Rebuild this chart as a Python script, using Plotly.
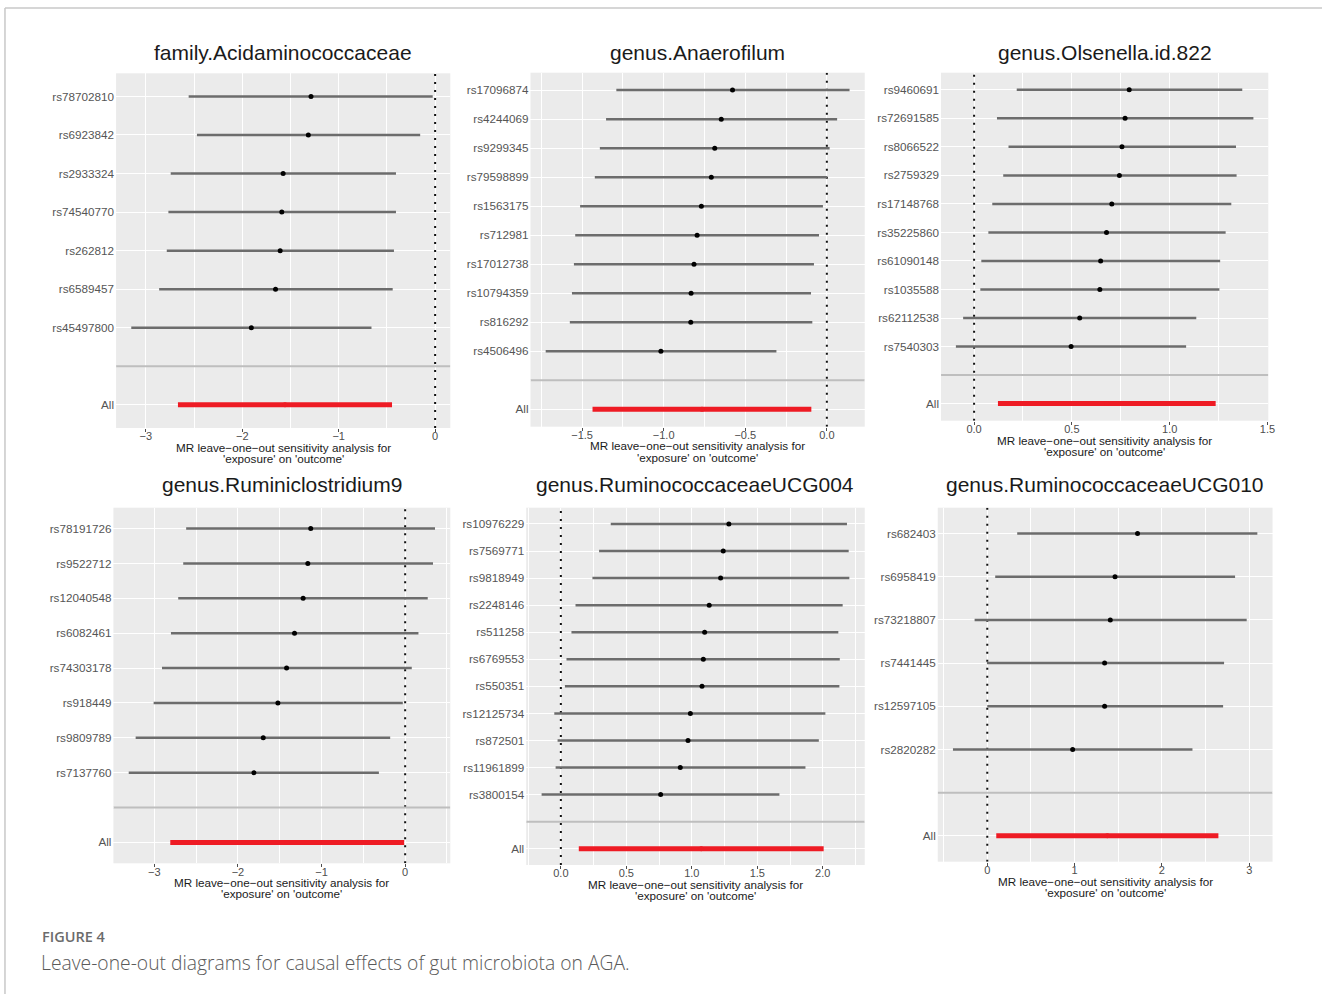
import plotly.graph_objects as go

W, H = 1329, 994

# ---------------- data ----------------
p1_title = "family.Acidaminococcaceae"
p1_snps = ["rs78702810", "rs6923842", "rs2933324", "rs74540770", "rs262812", "rs6589457", "rs45497800"]
p1_b = [-1.287, -1.315, -1.576, -1.590, -1.607, -1.655, -1.906]
p1_lo = [-2.556, -2.470, -2.742, -2.766, -2.783, -2.862, -3.151]
p1_hi = [-0.025, -0.155, -0.406, -0.406, -0.427, -0.440, -0.660]
p1_all = [-2.667, -1.557, -0.447]
p1_major = 1.0

p2_title = "genus.Anaerofilum"
p2_snps = ["rs17096874", "rs4244069", "rs9299345", "rs79598899", "rs1563175", "rs712981",
           "rs17012738", "rs10794359", "rs816292", "rs4506496"]
p2_b = [-0.578, -0.647, -0.687, -0.708, -0.769, -0.795, -0.814, -0.832, -0.834, -1.017]
p2_lo = [-1.290, -1.353, -1.391, -1.422, -1.512, -1.542, -1.550, -1.562, -1.575, -1.723]
p2_hi = [0.139, 0.063, 0.017, 0.002, -0.024, -0.048, -0.079, -0.097, -0.089, -0.309]
p2_all = [-1.436, -0.765, -0.095]
p2_major = 0.5

p3_title = "genus.Olsenella.id.822"
p3_snps = ["rs9460691", "rs72691585", "rs8066522", "rs2759329", "rs17148768", "rs35225860",
           "rs61090148", "rs1035588", "rs62112538", "rs7540303"]
p3_b = [0.793, 0.772, 0.756, 0.743, 0.704, 0.677, 0.647, 0.643, 0.540, 0.496]
p3_lo = [0.218, 0.117, 0.176, 0.149, 0.093, 0.073, 0.037, 0.032, -0.056, -0.093]
p3_hi = [1.371, 1.428, 1.339, 1.342, 1.315, 1.286, 1.258, 1.254, 1.136, 1.084]
p3_all = [0.122, 0.678, 1.235]
p3_major = 0.5

p4_title = "genus.Ruminiclostridium9"
p4_snps = ["rs78191726", "rs9522712", "rs12040548", "rs6082461", "rs74303178", "rs918449",
           "rs9809789", "rs7137760"]
p4_b = [-1.129, -1.164, -1.220, -1.323, -1.418, -1.522, -1.697, -1.808]
p4_lo = [-2.619, -2.654, -2.714, -2.801, -2.908, -3.008, -3.223, -3.306]
p4_hi = [0.357, 0.333, 0.270, 0.159, 0.079, -0.028, -0.179, -0.314]
p4_all = [-2.809, -1.410, -0.012]
p4_major = 1.0

p5_title = "genus.RuminococcaceaeUCG004"
p5_snps = ["rs10976229", "rs7569771", "rs9818949", "rs2248146", "rs511258", "rs6769553",
           "rs550351", "rs12125734", "rs872501", "rs11961899", "rs3800154"]
p5_b = [1.283, 1.240, 1.220, 1.133, 1.098, 1.088, 1.078, 0.989, 0.971, 0.912, 0.762]
p5_lo = [0.381, 0.292, 0.241, 0.112, 0.081, 0.043, 0.031, -0.050, -0.025, -0.040, -0.147]
p5_hi = [2.185, 2.198, 2.203, 2.152, 2.119, 2.130, 2.127, 2.020, 1.970, 1.868, 1.669]
p5_all = [0.137, 1.072, 2.007]
p5_major = 0.5

p6_title = "genus.RuminococcaceaeUCG010"
p6_snps = ["rs682403", "rs6958419", "rs73218807", "rs7441445", "rs12597105", "rs2820282"]
p6_b = [1.721, 1.463, 1.409, 1.344, 1.344, 0.978]
p6_lo = [0.343, 0.091, -0.145, -0.004, 0.000, -0.393]
p6_hi = [3.093, 2.838, 2.971, 2.712, 2.701, 2.350]
p6_all = [0.103, 1.375, 2.647]
p6_major = 1.0

x_title_1 = "MR leave\u2212one\u2212out sensitivity analysis for"
x_title_2 = "'exposure' on 'outcome'"
caption_1 = "FIGURE 4"
caption_2 = "Leave-one-out diagrams for causal effects of gut microbiota on AGA."

panels = [
    (p1_title, p1_snps, p1_b, p1_lo, p1_hi, p1_all, p1_major),
    (p2_title, p2_snps, p2_b, p2_lo, p2_hi, p2_all, p2_major),
    (p3_title, p3_snps, p3_b, p3_lo, p3_hi, p3_all, p3_major),
    (p4_title, p4_snps, p4_b, p4_lo, p4_hi, p4_all, p4_major),
    (p5_title, p5_snps, p5_b, p5_lo, p5_hi, p5_all, p5_major),
    (p6_title, p6_snps, p6_b, p6_lo, p6_hi, p6_all, p6_major),
]

# ---------------- layout (pixel boxes: left, right, top, bottom) ----------------
boxes = [
    (116.7, 452.7, 73.3, 428.0),
    (533.3, 869.3, 72.7, 426.7),
    (946.0, 1275.0, 72.7, 420.7),
    (114.0, 452.7, 507.7, 863.3),
    (529.0, 869.3, 507.7, 865.0),
    (942.7, 1279.3, 507.7, 861.7),
]
title_y = [52, 52, 52, 484, 485, 484]

FONT = "Liberation Sans, Arial, Helvetica, sans-serif"
BAR = "#6c6c6c"
RED = "#ee1b24"

fig = go.Figure()
layout = dict(
    width=W, height=H, autosize=False,
    margin=dict(l=0, r=0, t=0, b=0),
    paper_bgcolor="white", plot_bgcolor="#EBEBEB",
    showlegend=False,
    font=dict(family=FONT, color="#4D4D4D"),
)
annotations = []
shapes = []

for i, (title, snps, b, lo, hi, allv, major) in enumerate(panels):
    k = "" if i == 0 else str(i + 1)
    xa, ya = "x" + k, "y" + k
    L, R, T, B = boxes[i]
    n = len(snps)
    rows = [n + 2 - j for j in range(n)]
    yr = [0.4, n + 2.6]

    # x range from data (+0 line) with 5% expansion
    xmin = min(min(lo), allv[0], 0.0)
    xmax = max(max(hi), allv[2], 0.0)
    span = xmax - xmin
    xr = [xmin - 0.05 * span, xmax + 0.05 * span]

    fmt = ".1f" if major < 1 else "d"
    layout["xaxis" + k] = dict(
        domain=[L / W, R / W], anchor=ya, range=xr,
        tick0=0, dtick=major, tickformat=fmt,
        showgrid=True, gridcolor="white", gridwidth=1.3,
        minor=dict(tick0=0, dtick=major / 2, showgrid=True, gridcolor="white", gridwidth=0.6),
        zeroline=False, showline=False,
        ticks="outside", ticklen=3, tickwidth=1, tickcolor="#4D4D4D",
        tickfont=dict(size=11, color="#4D4D4D", family=FONT),
        ticklabelstandoff=-5,
        fixedrange=True,
    )
    layout["yaxis" + k] = dict(
        domain=[1 - B / H, 1 - T / H], anchor=xa, range=yr,
        tickmode="array", tickvals=[1, 2] + rows, ticktext=["All", ""] + snps,
        showgrid=True, gridcolor="white", gridwidth=1.3,
        zeroline=False, showline=False, ticks="",
        tickfont=dict(size=11.7, color="#555555", family=FONT),
        ticklabelstandoff=1,
        fixedrange=True,
    )

    # dotted vertical line at 0
    shapes.append(dict(type="line", xref=xa, yref=ya, x0=0, x1=0, y0=yr[0], y1=yr[1],
                       line=dict(color="#111111", width=2, dash="2px,6px"), layer="between"))

    # SNP error bars
    xs, ys = [], []
    for r, a, c in zip(rows, lo, hi):
        xs += [a, c, None]
        ys += [r, r, None]
    fig.add_trace(go.Scatter(x=xs, y=ys, mode="lines", xaxis=xa, yaxis=ya,
                             line=dict(color=BAR, width=2.5), hoverinfo="skip"))
    # All bar
    fig.add_trace(go.Scatter(x=[allv[0], allv[2]], y=[1, 1], mode="lines", xaxis=xa, yaxis=ya,
                             line=dict(color=RED, width=5), hoverinfo="skip"))
    # points
    fig.add_trace(go.Scatter(x=b, y=rows, mode="markers", xaxis=xa, yaxis=ya,
                             marker=dict(color="black", size=5), hoverinfo="skip"))
    fig.add_trace(go.Scatter(x=[allv[1]], y=[1], mode="markers", xaxis=xa, yaxis=ya,
                             marker=dict(color=RED, size=5), hoverinfo="skip"))

    # grey separator line at the blank row
    shapes.append(dict(type="line", xref=xa, yref=ya, x0=xr[0], x1=xr[1], y0=2, y1=2,
                       line=dict(color="#BEBEBE", width=2), layer="above"))

    cx = (L + R) / 2 / W
    annotations.append(dict(text=title, x=cx, y=1 - title_y[i] / H, xref="paper", yref="paper",
                            xanchor="center", yanchor="middle", showarrow=False,
                            font=dict(size=21, color="#1A1A1A", family=FONT)))
    annotations.append(dict(text=x_title_1, x=cx, y=1 - (B + 19.3) / H, xref="paper", yref="paper",
                            xanchor="center", yanchor="middle", showarrow=False,
                            font=dict(size=11.7, color="#1A1A1A", family=FONT)))
    annotations.append(dict(text=x_title_2, x=cx, y=1 - (B + 30.5) / H, xref="paper", yref="paper",
                            xanchor="center", yanchor="middle", showarrow=False,
                            font=dict(size=11.7, color="#1A1A1A", family=FONT)))

# caption
annotations.append(dict(text=caption_1, x=40 / W, y=1 - 936 / H, xref="paper", yref="paper",
                        xanchor="left", yanchor="middle", showarrow=False,
                        font=dict(size=14.5, color="#6b6b6b", family="Open Sans, sans-serif", weight=600)))
annotations.append(dict(text=caption_2, x=39 / W, y=1 - 962 / H, xref="paper", yref="paper",
                        xanchor="left", yanchor="middle", showarrow=False,
                        font=dict(size=19.3, color="#5a5a5a", family="Open Sans, sans-serif", weight=300)))

# page frame
shapes.append(dict(type="line", xref="paper", yref="paper", x0=5 / W, x1=1, y0=1 - 8 / H, y1=1 - 8 / H,
                   line=dict(color="#c8c8c8", width=1.5)))
shapes.append(dict(type="line", xref="paper", yref="paper", x0=5 / W, x1=5 / W, y0=0, y1=1 - 8 / H,
                   line=dict(color="#c8c8c8", width=1.5)))

layout["annotations"] = annotations
layout["shapes"] = shapes
fig.update_layout(**layout)

fig.write_html("out.html", config={"displayModeBar": False},
               post_script="document.body.style.margin='0';document.body.style.overflow='hidden';")
